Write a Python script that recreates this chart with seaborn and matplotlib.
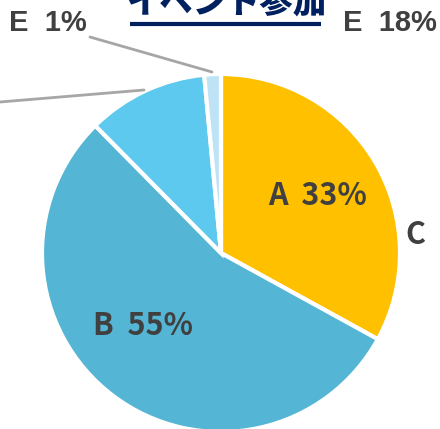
import matplotlib
matplotlib.use("Agg")
import matplotlib.pyplot as plt
import seaborn as sns

# ---- data ----
categories = ["A", "B", "D", "E"]
shares = [33, 54.6, 10.9, 1.5]
slice_colors = ["#FFC000", "#55B5D5", "#5DC9EE", "#BEE3F6"]
title_text = "イベント参加"

sns.set_style("white")
plt.rcParams["font.family"] = ["Noto Sans CJK JP", "DejaVu Sans"]

fig = plt.figure(figsize=(4.40, 4.29), dpi=100)
ax = fig.add_axes([0, 0, 1, 1])

ax.pie(shares, colors=slice_colors, startangle=90, counterclock=False,
       center=(221, 176), radius=179, frame=True,
       wedgeprops=dict(edgecolor="white", linewidth=3))
ax.set_xlim(0, 440)
ax.set_ylim(0, 429)
ax.set_aspect("equal")
ax.axis("off")

dark = "#404040"
ax.text(318, 233, f"{categories[0]}  {round(shares[0])}%", ha="center", va="center",
        fontsize=22, fontweight="bold", color=dark)
ax.text(143, 103, f"{categories[1]}  {round(shares[1])}%", ha="center", va="center",
        fontsize=22, fontweight="bold", color=dark)
ax.text(405, 194, "C", ha="left", va="center",
        fontsize=22, fontweight="bold", color=dark)

# outside labels (Arial-like)
ax.text(9, 406, f"{categories[3]}  {int(shares[3])}%", ha="left", va="center",
        fontsize=21, fontweight="bold", color=dark, family="Liberation Sans")
ax.text(343, 406, "E  18%", ha="left", va="center",
        fontsize=21, fontweight="bold", color=dark, family="Liberation Sans")

# leader lines
ax.plot([90, 212], [429 - 37, 429 - 72], color="#A6A6A6", lw=2)
ax.plot([0, 144], [429 - 102, 429 - 90], color="#A6A6A6", lw=2)

# title (cut at top) with underline
ax.text(226, 429 - 20, title_text, ha="center", va="bottom",
        fontsize=24, fontweight="black", color="#002060")
ax.plot([130, 321], [429 - 24, 429 - 24], color="#002060", lw=3,
        solid_capstyle="butt")

fig.savefig("out.png", dpi=100)
